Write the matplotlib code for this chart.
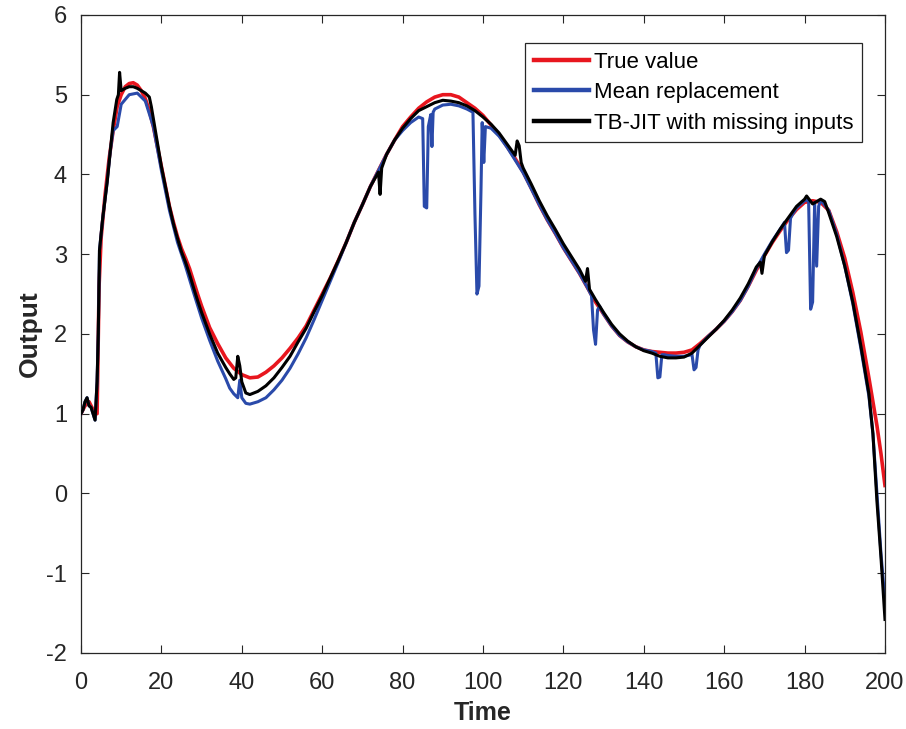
import matplotlib
matplotlib.use("Agg")
import matplotlib.pyplot as plt

plt.rcParams['font.family'] = ['Liberation Sans', 'DejaVu Sans']
plt.rcParams['axes.unicode_minus'] = False

# ---- True value ----
t_true = [0, 1, 2, 3, 4, 4.5, 5, 6, 7, 8, 9, 10, 11, 12, 13, 14, 15, 16, 17, 18, 19, 20,
          21, 22, 23, 24, 25, 26, 27, 28, 29, 30, 32, 34, 36, 38, 40, 42, 44, 46, 48, 50,
          52, 54, 56, 58, 60, 62, 64, 66, 68, 70, 72, 74, 76, 78, 80, 82, 84, 86, 88, 90,
          92, 94, 96, 98, 100, 102, 104, 106, 108, 110, 112, 114, 116, 118, 120, 122, 124,
          126, 128, 130, 132, 134, 136, 138, 140, 142, 144, 146, 148, 150, 152, 154, 156,
          158, 160, 162, 164, 166, 168, 170, 172, 174, 176, 178, 180, 182, 184, 186, 188,
          190, 192, 194, 196, 198, 199, 200]
y_true = [1.00, 1.10, 1.15, 1.05, 1.00, 2.60, 3.20, 3.75, 4.20, 4.55, 4.85, 5.00, 5.10, 5.14,
          5.15, 5.12, 5.05, 4.95, 4.80, 4.60, 4.35, 4.10, 3.85, 3.60, 3.40, 3.22, 3.07, 2.95,
          2.82, 2.66, 2.50, 2.35, 2.08, 1.88, 1.70, 1.57, 1.49, 1.45, 1.46, 1.52, 1.60, 1.70,
          1.82, 1.95, 2.10, 2.30, 2.50, 2.70, 2.92, 3.15, 3.40, 3.62, 3.85, 4.05, 4.25, 4.43,
          4.60, 4.72, 4.83, 4.91, 4.97, 5.00, 5.00, 4.97, 4.90, 4.83, 4.74, 4.62, 4.50, 4.35,
          4.20, 4.03, 3.83, 3.62, 3.43, 3.26, 3.08, 2.92, 2.76, 2.58, 2.40, 2.25, 2.10, 1.98,
          1.90, 1.84, 1.80, 1.78, 1.77, 1.76, 1.76, 1.77, 1.80, 1.88, 1.97, 2.06, 2.16, 2.28,
          2.42, 2.60, 2.80, 2.98, 3.15, 3.30, 3.44, 3.56, 3.65, 3.67, 3.65, 3.55, 3.28, 2.95,
          2.52, 2.02, 1.45, 0.85, 0.50, 0.10]

# ---- Mean replacement ----
t_mean = [0, 0.5, 1, 1.5, 2, 2.5, 3, 3.5, 4, 4.3, 4.6, 5.4, 6.5, 7.3, 8, 9, 10, 12, 14, 16,
          18, 20, 22, 24, 26, 28, 30, 32, 34, 36, 37, 38, 39, 39.5, 40, 41, 42, 44, 46, 48,
          50, 52, 54, 56, 58, 60, 62, 64, 66, 68, 70, 72, 74, 76, 78, 80, 82, 84, 85, 85.4,
          86, 86.4, 87, 87.3, 87.6, 88, 90, 92, 94, 96, 97.5, 98, 98.5, 99, 99.5, 99.8, 100.2,
          100.6, 102, 104, 106, 108, 110, 112, 114, 116, 118, 120, 122, 124, 126, 127, 127.5,
          128, 128.5, 129, 130, 132, 134, 136, 138, 140, 142, 143, 143.5, 144, 144.5, 145, 146,
          148, 150, 152, 152.5, 153, 153.5, 154, 156, 158, 160, 162, 164, 166, 168, 170, 172,
          174, 175, 175.5, 176, 176.5, 177, 178, 180, 181, 181.5, 182, 182.5, 183, 183.5, 184,
          186, 188, 190, 192, 194, 196, 197, 198, 199, 199.5, 200]
y_mean = [1.00, 1.05, 1.15, 1.20, 1.10, 1.08, 1.00, 0.92, 1.40, 2.00, 3.05, 3.45, 3.90, 4.30,
          4.55, 4.60, 4.88, 5.00, 5.02, 4.92, 4.60, 4.05, 3.55, 3.15, 2.85, 2.52, 2.20, 1.92,
          1.66, 1.44, 1.32, 1.25, 1.20, 1.42, 1.20, 1.13, 1.12, 1.15, 1.20, 1.30, 1.42, 1.57,
          1.75, 1.95, 2.18, 2.42, 2.66, 2.90, 3.15, 3.40, 3.62, 3.85, 4.05, 4.25, 4.43, 4.55,
          4.65, 4.72, 4.70, 3.60, 3.58, 4.60, 4.75, 4.35, 4.78, 4.82, 4.87, 4.88, 4.86, 4.82,
          4.78, 3.50, 2.50, 2.60, 3.80, 4.65, 4.15, 4.60, 4.58, 4.48, 4.34, 4.18, 4.02, 3.82,
          3.62, 3.43, 3.26, 3.08, 2.92, 2.76, 2.58, 2.48, 2.05, 1.87, 2.30, 2.35, 2.25, 2.10,
          1.98, 1.90, 1.84, 1.80, 1.78, 1.76, 1.45, 1.46, 1.74, 1.74, 1.73, 1.72, 1.72, 1.74,
          1.55, 1.58, 1.80, 1.86, 1.97, 2.06, 2.16, 2.28, 2.42, 2.60, 2.82, 3.00, 3.17, 3.32,
          3.40, 3.02, 3.05, 3.45, 3.50, 3.58, 3.67, 3.68, 2.31, 2.40, 3.65, 2.85, 3.60, 3.68,
          3.55, 3.25, 2.85, 2.38, 1.82, 1.22, 0.75, 0.00, -0.75, -1.05, -1.35]

# ---- TB-JIT with missing inputs ----
t_jit = [0, 0.5, 1, 1.5, 2, 2.5, 3, 3.5, 4, 4.3, 4.6, 5.4, 6.5, 7.3, 8, 8.9, 9.3, 9.6, 10,
         11, 12, 13, 14, 15, 16, 17, 17.5, 18, 19, 20, 21, 22, 23, 24, 25, 26, 27, 28, 29,
         30, 32, 34, 36, 37, 38, 38.5, 39, 39.5, 40, 41, 42, 44, 46, 48, 50, 52, 54, 56, 58,
         60, 62, 64, 66, 68, 70, 72, 74, 74.4, 74.8, 76, 78, 80, 82, 84, 86, 88, 90, 92, 94,
         96, 98, 100, 102, 104, 106, 108, 108.5, 109, 109.5, 110, 112, 114, 116, 118, 120,
         122, 124, 125.5, 126, 126.5, 128, 130, 132, 134, 136, 138, 140, 142, 144, 146, 148,
         150, 152, 154, 156, 158, 160, 162, 164, 166, 168, 169, 169.4, 170, 172, 174, 176,
         178, 180, 180.5, 182, 184, 185, 186, 188, 190, 192, 194, 196, 197, 198, 199, 199.5,
         200]
y_jit = [1.00, 1.05, 1.15, 1.20, 1.10, 1.08, 1.00, 0.92, 1.40, 2.00, 3.05, 3.45, 3.90, 4.30,
         4.65, 4.94, 5.00, 5.28, 5.05, 5.08, 5.10, 5.10, 5.08, 5.05, 5.02, 4.97, 4.85, 4.70,
         4.40, 4.10, 3.85, 3.60, 3.38, 3.20, 3.03, 2.90, 2.75, 2.58, 2.42, 2.27, 2.00, 1.76,
         1.58, 1.50, 1.43, 1.45, 1.72, 1.60, 1.40, 1.26, 1.24, 1.28, 1.35, 1.45, 1.58, 1.72,
         1.90, 2.07, 2.28, 2.48, 2.70, 2.92, 3.15, 3.40, 3.62, 3.85, 4.03, 3.75, 4.08, 4.25,
         4.43, 4.58, 4.70, 4.80, 4.85, 4.90, 4.93, 4.92, 4.90, 4.86, 4.80, 4.72, 4.63, 4.52,
         4.38, 4.24, 4.42, 4.36, 4.15, 4.08, 3.88, 3.67, 3.48, 3.31, 3.13, 2.97, 2.81, 2.66,
         2.82, 2.56, 2.43, 2.27, 2.12, 2.00, 1.91, 1.84, 1.79, 1.76, 1.72, 1.70, 1.70, 1.71,
         1.76, 1.86, 1.96, 2.06, 2.17, 2.30, 2.45, 2.63, 2.84, 2.90, 2.76, 2.98, 3.16, 3.32,
         3.46, 3.60, 3.69, 3.73, 3.63, 3.69, 3.66, 3.52, 3.22, 2.85, 2.40, 1.85, 1.25, 0.75,
         -0.10, -0.80, -1.20, -1.58]

series_labels = ["True value", "Mean replacement", "TB-JIT with missing inputs"]
x_ticks = [0, 20, 40, 60, 80, 100, 120, 140, 160, 180, 200]
y_ticks = [-2, -1, 0, 1, 2, 3, 4, 5, 6]

fig = plt.figure(figsize=(9.06, 7.29), dpi=100)
ax = fig.add_axes([0.0894, 0.1043, 0.8874, 0.8752])

ax.plot(t_true, y_true, color="#e8161e", lw=2.6, label=series_labels[0], zorder=2)
ax.plot(t_mean, y_mean, color="#2a4aaa", lw=2.2, label=series_labels[1], zorder=3)
ax.plot(t_jit, y_jit, color="#000000", lw=2.2, label=series_labels[2], zorder=4)

ax.set_xlim(0, 200)
ax.set_ylim(-2, 6)
ax.set_xticks(x_ticks)
ax.set_yticks(y_ticks)
ax.tick_params(direction="in", length=6, width=0.8, labelsize=17, colors="#262626",
               top=True, right=True, labeltop=False, labelright=False)
ax.tick_params(axis="x", pad=14)
ax.tick_params(axis="y", pad=10)
for s in ax.spines.values():
    s.set_color("#262626")
    s.set_linewidth(0.9)

ax.set_xlabel("Time", fontsize=18, fontweight="bold", color="#262626", labelpad=5)
ax.set_ylabel("Output", fontsize=19, fontweight="bold", color="#262626", labelpad=3)

leg = ax.legend(loc="upper right", bbox_to_anchor=(0.9714, 0.956), borderaxespad=0,
                fontsize=16, handlelength=2.5, handletextpad=0.2, borderpad=0.4,
                labelspacing=0.42, fancybox=False, edgecolor="#262626", framealpha=1)
leg.get_frame().set_linewidth(0.9)
for line in leg.get_lines():
    line.set_linewidth(3.2)

fig.savefig("out.png", dpi=100)
